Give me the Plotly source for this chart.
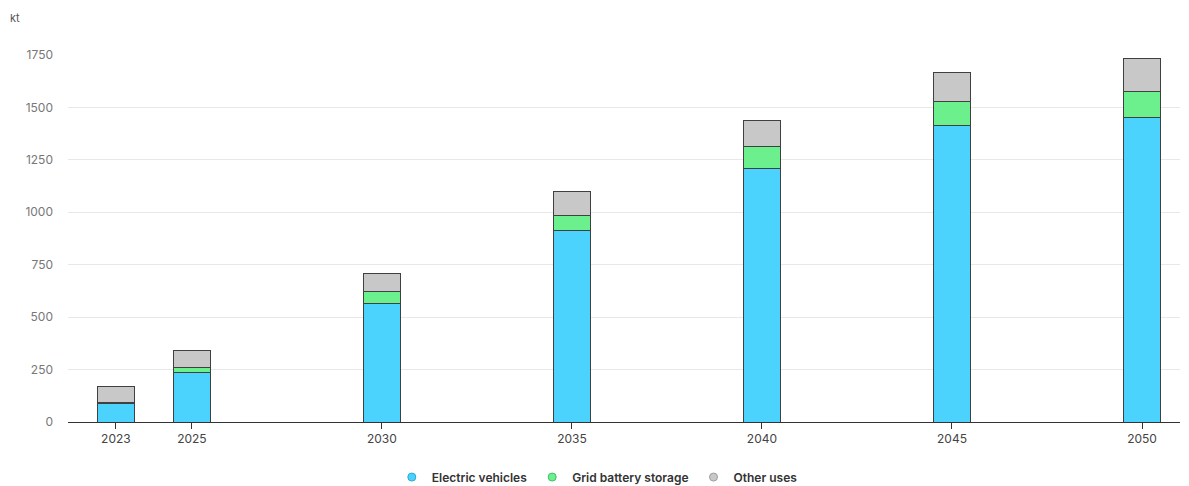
import plotly.graph_objects as go

years = [2023, 2025, 2030, 2035, 2040, 2045, 2050]
ev = [86, 234, 563, 911, 1207, 1412, 1450]
grid = [9, 24, 57, 76, 105, 114, 124]
other = [72, 81, 86, 110, 124, 139, 158]
series_names = ["Electric vehicles", "Grid battery storage", "Other uses"]
colors = ["#4bd3fe", "#6cf08e", "#c8c8c8"]
legend_colors = ["#2fa6d6", "#3fbf68", "#9e9e9e"]
y_ticks = [0, 250, 500, 750, 1000, 1250, 1500, 1750]

fig = go.Figure()
for name, vals, col in zip(series_names, [ev, grid, other], colors):
    fig.add_trace(go.Bar(
        x=years, y=vals, name=name, width=0.97,
        marker=dict(color=col, line=dict(color="#404040", width=1)),
        showlegend=False,
    ))
for name, col, lc in zip(series_names, colors, legend_colors):
    fig.add_trace(go.Scatter(
        x=[None], y=[None], mode="markers", name=name,
        marker=dict(symbol="circle", size=8, color=col, line=dict(color=lc, width=1)),
        showlegend=True,
    ))

# page has an 8px body margin: figure sized/offset to fill 1189x486 viewport
fig.update_layout(
    barmode="stack",
    width=1181, height=478,
    margin=dict(l=60, r=9, t=47, b=64, autoexpand=False),
    paper_bgcolor="white", plot_bgcolor="white",
    font=dict(family="Inter, Open Sans, sans-serif", size=12, color="#666"),
    showlegend=True,
    legend=dict(orientation="h", x=0.476, xanchor="center", y=-0.15, yanchor="middle",
                font=dict(size=12, color="#333", family="Inter, Open Sans, sans-serif", weight=600),
                itemwidth=30, traceorder="normal", tracegroupgap=0),
    xaxis=dict(range=[2021.74, 2051.0], tickvals=years, ticktext=[str(y) for y in years],
               showgrid=False, showline=True, linecolor="#333", linewidth=1,
               ticks="outside", ticklen=6, tickcolor="#333", zeroline=False,
               automargin=False, tickfont=dict(color="#444", size=12)),
    yaxis=dict(range=[0, 1750], tickvals=y_ticks, showgrid=True, gridcolor="#e8e8e8",
               zeroline=False, showline=False, ticks="", ticklabelstandoff=14,
               automargin=False, tickfont=dict(color="#777", size=12)),
    annotations=[dict(text="kt", xref="paper", yref="paper", x=-0.048, y=1.125,
                      xanchor="center", yanchor="top", showarrow=False,
                      font=dict(size=11, color="#555"))],
)
fig.write_html("out.html")
